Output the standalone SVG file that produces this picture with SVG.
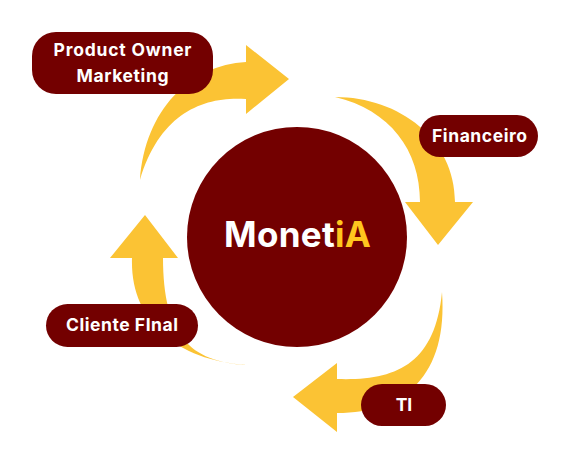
<svg xmlns="http://www.w3.org/2000/svg" width="571" height="465" viewBox="0 0 571 465">
<style>
.arrow{fill:#FBC334;stroke:none}
.pill{fill:#730000}
.lbl{font-family:Inter,"Open Sans","Liberation Sans",sans-serif;font-weight:700;font-size:17.5px;fill:#ffffff;text-anchor:middle}
.title{font-family:Inter,"Open Sans","Liberation Sans",sans-serif;font-weight:700;font-size:35px;fill:#ffffff}
</style>
<rect width="571" height="465" fill="#ffffff"/>
<g id="connectors">
<path class="arrow" d="M140,180 C145,110 190,65 246,62 L246,45 L289,79 L246,114 L246,99 C205,96 160,112 140,180 Z"/>
<path class="arrow" d="M335,97 C400,97 455,140 455,202 L473,202 L438,245 L405,202 L420,202 C420,150 390,110 335,97 Z"/>
<path class="arrow" d="M442,292 C448,375 405,413 337,413 L337,432 L293,397 L337,363 L337,379 C395,381 435,365 442,292 Z"/>
<path class="arrow" d="M247,365 C175,360 130,320 132,258 L110,258 L145,215 L178,258 L163,258 C163,335 190,362 247,365 Z"/>
</g>
<g id="center">
<circle cx="297" cy="237" r="110" fill="#730000"/>
<text class="title" x="224" y="247" textLength="147" lengthAdjust="spacing">Monet<tspan fill="#FFC61E">iA</tspan></text>
</g>
<g id="product-owner">
<rect class="pill" x="32" y="32" width="181" height="62" rx="24"/>
<text class="lbl" x="122.5" y="56" textLength="138" lengthAdjust="spacing">Product Owner</text>
<text class="lbl" x="122.5" y="82" textLength="92" lengthAdjust="spacing">Marketing</text>
</g>
<g id="financeiro">
<rect class="pill" x="419" y="115" width="119" height="42" rx="21"/>
<text class="lbl" x="479.5" y="142" textLength="95" lengthAdjust="spacing">Financeiro</text>
</g>
<g id="cliente-final">
<rect class="pill" x="46" y="304" width="152" height="43" rx="21.5"/>
<text class="lbl" x="122" y="331" textLength="112" lengthAdjust="spacing">Cliente FInal</text>
</g>
<g id="ti">
<rect class="pill" x="361" y="384" width="85" height="42" rx="21"/>
<text class="lbl" x="404" y="411">TI</text>
</g>
</svg>
